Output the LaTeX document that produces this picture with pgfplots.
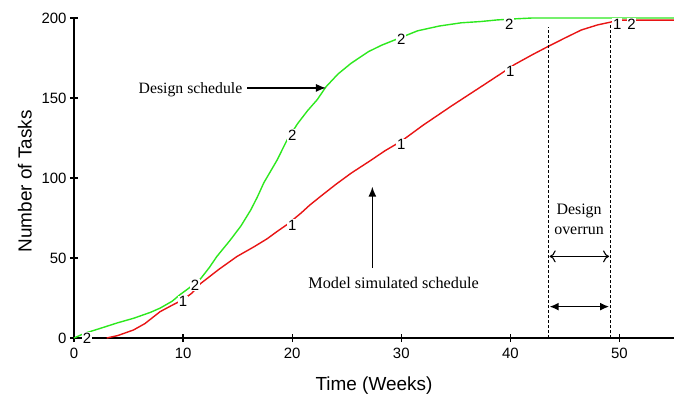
\documentclass[border=0pt]{standalone}
\usepackage{pgfplots}
\pgfplotsset{compat=1.18}
\usepackage{pgfplotstable}
\usepackage{fontspec}
\setmainfont{Liberation Serif}
\newfontfamily\arial{Liberation Sans}
\usetikzlibrary{arrows.meta}
\definecolor{cgreen}{RGB}{45,232,30}
\definecolor{cred}{RGB}{232,20,20}

\pgfplotstableread{
x y
0 0
1 3
2.4 6
4 9.5
5.45 12.3
7 16
7.9 18.7
9 23
9.7 27
10.5 31
11.6 37
12.4 44
13.1 51
14.3 61
15.3 70
16.2 80
16.8 88
17.4 97
18.6 111
19.55 124
20.5 134
21.4 142
22.3 149
23.1 157
24.2 165
25.4 171.7
27 179
28.2 183
29.3 186
31.5 192
33.5 195
35.5 197
37.3 197.8
38.8 198.8
40.5 199.5
42 200
55 200
}\greendata

\pgfplotstableread{
x y
3 0
4 1.5
5.45 5
6.5 9
7.9 16.5
9 20.5
10 24
10.8 28
11.6 34
13.3 43
14.95 51
16.5 57
17.7 62
18.6 66.5
19.55 71
20.8 78
21.6 83
22.6 88.5
24 96
25.4 103
27.2 111
28.5 117
30 123
32 133
34.6 145
37.3 157
39.2 165.5
40.4 171
42 177
43.4 182
45 187.5
46.5 192.5
48 195.7
49.1 197.3
50 198.7
55 198.7
}\reddata

\pgfplotstableread{
x y lab
1.2 0 2
11.1 33 2
20 127 2
30 186.5 2
39.9 196 2
51.1 196 2
}\greenlabels

\pgfplotstableread{
x y lab
10 22.7 1
20 70.6 1
30 120.8 1
40 166.5 1
49.8 196 1
}\redlabels

\begin{document}
\begin{tikzpicture}
\useasboundingbox (-74bp,-62bp) rectangle (605bp,338bp);
\begin{axis}[
  at={(0,0)}, anchor=south west,
  scale only axis, width=600bp, height=320bp,
  xmin=0, xmax=55, ymin=0, ymax=200,
  axis x line*=bottom, axis y line*=left,
  axis line style={line width=1.3bp, black},
  xtick={0,10,...,50}, ytick={0,50,...,200},
  tick align=center, major tick length=8bp,
  tick style={line width=1.3bp, black},
  tick label style={font=\arial\fontsize{15}{17}\selectfont},
  xticklabel style={yshift=-3bp},
  /pgf/number format/assume math mode=true,
  xlabel={Time (Weeks)}, ylabel={Number of Tasks},
  label style={font=\arial\fontsize{19}{21}\selectfont},
  xlabel style={at={(axis description cs:0.5,0)}, anchor=north, yshift=-39bp, inner sep=0pt},
  ylabel style={at={(axis description cs:-0.082,0.49)}, anchor=center},
  clip=false,
]
\addplot[cgreen, line width=1.4bp] table[x=x, y=y] {\greendata};
\addplot[cred, line width=1.4bp] table[x=x, y=y] {\reddata};

\addplot[draw=none, nodes near coords, point meta=explicit symbolic,
  every node near coord/.append style={anchor=center, fill=white, inner sep=0.8pt,
  font=\arial\fontsize{15}{17}\selectfont}]
  table[x=x, y=y, meta=lab] {\greenlabels};
\addplot[draw=none, nodes near coords, point meta=explicit symbolic,
  every node near coord/.append style={anchor=center, fill=white, inner sep=0.8pt,
  font=\arial\fontsize{15}{17}\selectfont}]
  table[x=x, y=y, meta=lab] {\redlabels};

\draw[-{Latex[length=10bp,width=8bp]}, line width=1.4bp] (axis cs:15.9,156.3) -- (axis cs:23.1,156.3);
\node[font=\fontsize{15.8}{18}\selectfont, anchor=east, inner sep=0pt] at (axis cs:15.45,155) {Design schedule};
\draw[-{Latex[length=10bp,width=8bp]}, line width=1.4bp] (axis cs:27.35,43.7) -- (axis cs:27.35,94.6);
\node[font=\fontsize{16.3}{18}\selectfont, inner sep=0pt] at (axis cs:29.3,34.2) {Model simulated schedule};

\draw[line width=0.8bp, dash pattern=on 3bp off 2bp] (axis cs:43.45,0) -- (axis cs:43.45,194.6);
\draw[line width=0.8bp, dash pattern=on 3bp off 2bp] (axis cs:49.2,0) -- (axis cs:49.2,196);
\draw[{To[length=6bp,width=12bp]}-{To[length=6bp,width=12bp]}, line width=1.1bp] (axis cs:43.6,51) -- (axis cs:49.05,51);
\draw[{Latex[length=9bp,width=8bp]}-{Latex[length=9bp,width=8bp]}, line width=1.4bp] (axis cs:43.6,19.6) -- (axis cs:49.05,19.6);
\node[font=\fontsize{16}{20}\selectfont, align=center, inner sep=0pt] at (axis cs:46.3,74) {Design\\overrun};
\end{axis}
\end{tikzpicture}
\end{document}
